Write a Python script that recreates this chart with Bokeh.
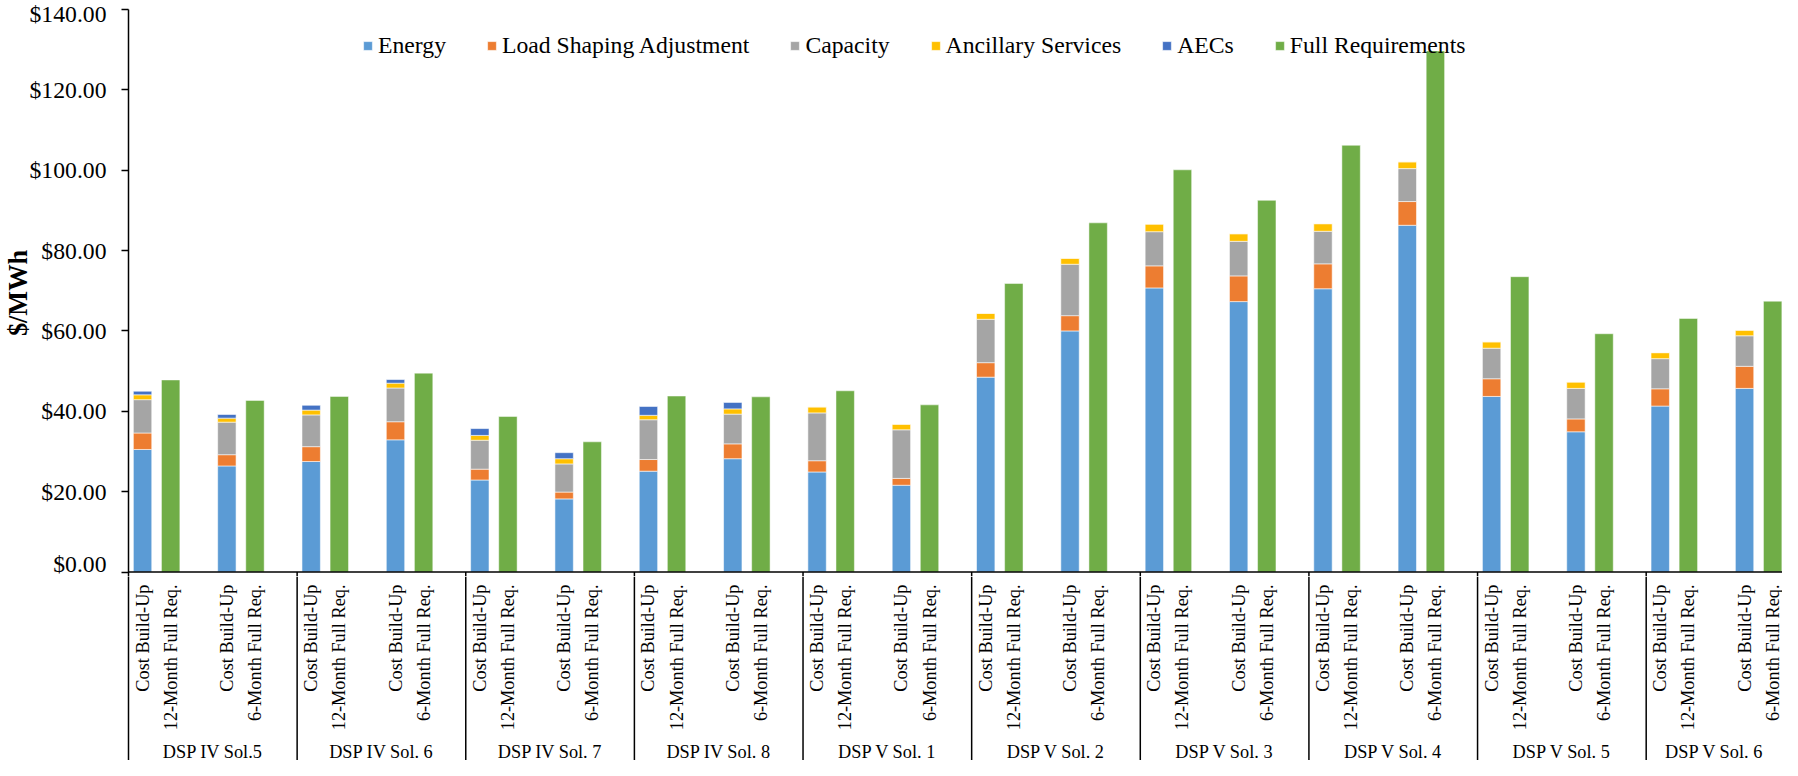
import math
from bokeh.plotting import figure
from bokeh.layouts import column
from bokeh.models import (Range1d, FixedTicker, NumeralTickFormatter, Span, ColumnDataSource)
from bokeh.core.properties import value
from bokeh.embed import file_html
from bokeh.resources import INLINE

# ---------------- data ----------------
groups = ["DSP IV Sol.5", "DSP IV Sol. 6", "DSP IV Sol. 7", "DSP IV Sol. 8", "DSP V Sol. 1",
          "DSP V Sol. 2", "DSP V Sol. 3", "DSP V Sol. 4", "DSP V Sol. 5", "DSP V Sol. 6"]
cbu_label = "Cost Build-Up"
fr_labels = ["12-Month Full Req.", "6-Month Full Req."]

series_names = ["Energy", "Load Shaping Adjustment", "Capacity", "Ancillary Services", "AECs"]
series_colors = ["#5B9BD5", "#ED7D31", "#A5A5A5", "#FFC000", "#4472C4"]
fr_name = "Full Requirements"
fr_color = "#70AD47"

# one value per (group, horizon): 12-Month then 6-Month for each group
energy = [30.5, 26.4, 27.5, 32.9, 22.9, 18.2, 25.1, 28.2, 24.9, 21.6,
          48.5, 60.0, 70.7, 67.3, 70.5, 86.3, 43.7, 34.9, 41.3, 45.7]
load_shaping = [4.1, 2.8, 3.7, 4.5, 2.7, 1.7, 2.9, 3.7, 2.8, 1.7,
                3.6, 3.8, 5.5, 6.4, 6.2, 5.9, 4.4, 3.2, 4.3, 5.5]
capacity = [8.3, 8.1, 7.9, 8.4, 7.2, 7.0, 9.9, 7.4, 11.9, 12.1,
            10.8, 12.8, 8.5, 8.6, 8.1, 8.2, 7.6, 7.6, 7.5, 7.6]
ancillary = [1.2, 1.0, 1.2, 1.2, 1.2, 1.3, 1.1, 1.3, 1.5, 1.4,
             1.5, 1.5, 1.9, 1.9, 1.9, 1.7, 1.6, 1.6, 1.5, 1.4]
aecs = [0.9, 0.9, 1.2, 0.9, 1.7, 1.5, 2.2, 1.6, 0.0, 0.0,
        0.0, 0.0, 0.0, 0.0, 0.0, 0.0, 0.0, 0.0, 0.0, 0.0]
full_requirements = [47.8, 42.7, 43.7, 49.5, 38.7, 32.4, 43.8, 43.6, 45.1, 41.6,
                     71.8, 86.9, 100.1, 92.5, 106.2, 129.7, 73.5, 59.3, 63.1, 67.4]

y_ticks = [0, 20, 40, 60, 80, 100, 120, 140]

# ---------------- layout constants ----------------
SLOT = 3.0            # each (group, horizon) category spans 3 units
BAR_W = 0.655
X_END = 58.85
FONT = "Liberation Serif"
W = 1782
LEFT = 124
TOP = 9
PX_PER_USD = 4.018
H1 = 576
H2 = 760 - H1
Y0 = 140 - (H1 - TOP) / PX_PER_USD   # slightly below zero

n_pairs = len(energy)
cbu_x = [SLOT * k + 0.5 for k in range(n_pairs)]
fr_x = [SLOT * k + 1.5 for k in range(n_pairs)]
sep_x = [SLOT * 2 * g for g in range(1, len(groups))]

x_range = Range1d(0, X_END)

# ---------------- main chart ----------------
p = figure(width=W, height=H1, output_backend="svg", toolbar_location=None,
           x_range=x_range, y_range=Range1d(Y0, 140),
           min_border_left=LEFT, min_border_right=0, min_border_top=TOP, min_border_bottom=0)
p.xaxis.visible = False
p.xgrid.visible = False
p.ygrid.visible = False
p.outline_line_color = None

yax = p.yaxis[0]
yax.ticker = FixedTicker(ticks=y_ticks)
yax.formatter = NumeralTickFormatter(format="$0.00")
yax.major_label_text_font = FONT
yax.major_label_text_font_size = "23.7px"
yax.major_label_text_color = "black"
yax.major_tick_in = 0
yax.major_tick_out = 7
yax.minor_tick_line_color = None
yax.axis_line_width = 1.5
yax.axis_line_color = "black"
yax.major_tick_line_width = 1.5
yax.major_tick_line_color = "black"
yax.major_label_standoff = 15
yax.axis_label = "$/MWh"
yax.axis_label_text_font = FONT
yax.axis_label_text_font_style = "bold"
yax.axis_label_text_font_size = "26.3px"
yax.axis_label_text_color = "black"
yax.axis_label_standoff = -6

src = ColumnDataSource(dict(x=cbu_x, e=energy, l=load_shaping, c=capacity, a=ancillary, r=aecs))
p.vbar_stack(["e", "l", "c", "a", "r"], x="x", width=BAR_W, color=series_colors, source=src,
             legend_label=series_names, line_color="white", line_width=0.8, line_alpha=0.7)
p.vbar(x=fr_x, top=full_requirements, width=BAR_W, color=fr_color, legend_label=fr_name,
       line_color="white", line_width=0.8, line_alpha=0.6)

p.add_layout(Span(location=0, dimension="width", line_color="black", line_width=1.5))
p.segment(x0=sep_x, y0=0, x1=sep_x, y1=Y0, line_color="black", line_width=1.5)

leg = p.legend[0]
leg.orientation = "horizontal"
leg.location = (234, H1 - TOP - 50)
leg.border_line_color = None
leg.background_fill_alpha = 0
leg.label_text_font = FONT
leg.label_text_font_size = "23.7px"
leg.label_text_color = "black"
leg.glyph_width = 11
leg.glyph_height = 11
leg.label_standoff = 5
leg.spacing = 40
leg.padding = 0
leg.margin = 0

# ---------------- category axis area ----------------
q = figure(width=W, height=H2, output_backend="svg", toolbar_location=None,
           x_range=x_range, y_range=Range1d(-H2, 0),
           min_border_left=LEFT, min_border_right=0, min_border_top=0, min_border_bottom=0)
q.xaxis.visible = False
q.xgrid.visible = False
q.ygrid.visible = False
q.outline_line_color = None
qax = q.yaxis[0]
qax.ticker = FixedTicker(ticks=[])
qax.major_label_text_font_size = "0px"
qax.major_tick_line_color = None
qax.minor_tick_line_color = None
qax.axis_line_width = 1.5
qax.axis_line_color = "black"

q.segment(x0=sep_x, y0=0, x1=sep_x, y1=-H2, line_color="black", line_width=1.5)

lab_x, lab_t = [], []
for k in range(n_pairs):
    lab_x += [cbu_x[k], fr_x[k]]
    lab_t += [cbu_label, fr_labels[k % 2]]
q.text(x=lab_x, y=-8, text=lab_t, angle=math.pi / 2, text_align="right",
       text_baseline="middle", text_font=value(FONT), text_font_size="18.3px",
       text_color="black")

g_x = [(SLOT * 2 * g + min(SLOT * 2 * (g + 1), X_END)) / 2 for g in range(len(groups))]
q.text(x=g_x, y=-175, text=groups, text_align="center", text_baseline="middle",
       text_font=value(FONT), text_font_size="18.3px", text_color="black")

layout = column(p, q, spacing=0)
open("out.html", "w").write(file_html(layout, INLINE))
